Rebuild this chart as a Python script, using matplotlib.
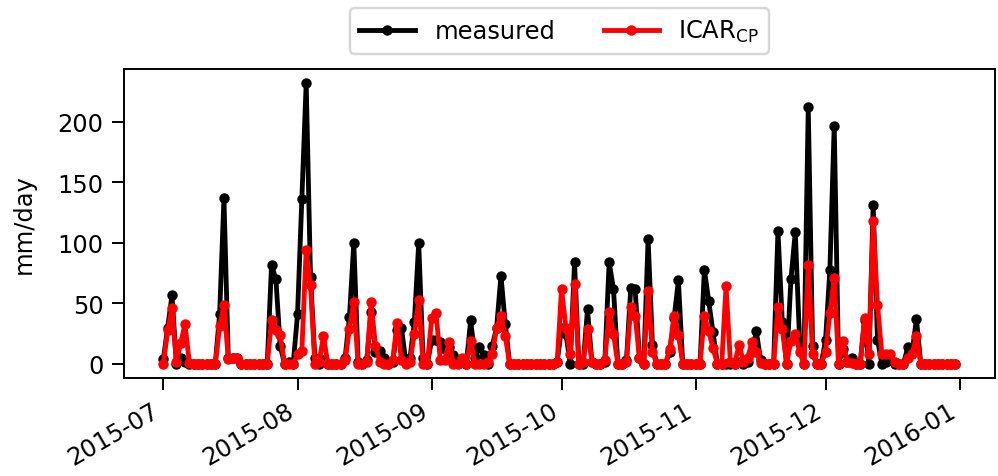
import numpy as np
import pandas as pd
import matplotlib
matplotlib.use('Agg')
import matplotlib.pyplot as plt
import matplotlib.dates as mdates

# daily precipitation, 2015-07-01 .. 2015-12-31 (mm/day)
measured_jul = [4, 30, 57, 0, 5, 2, 0, 0, 0, 0, 0, 0, 0, 41, 137, 5, 5, 5, 0, 0,
                0, 0, 0, 0, 0, 82, 70, 15, 0, 2, 0]
icar_jul = [0, 28, 46, 2, 17, 33, 1, 0, 0, 0, 0, 0, 0, 31, 49, 4, 5, 5, 0, 0,
            0, 0, 0, 0, 0, 36, 28, 24, 0, 0, 0]

measured_aug = [41, 136, 232, 72, 5, 0, 3, 0, 0, 0, 0, 5, 39, 100, 2, 0, 3, 43, 10, 11,
                5, 0, 2, 28, 30, 2, 5, 35, 100, 5, 0]
icar_aug = [8, 11, 94, 65, 0, 2, 23, 0, 0, 0, 0, 3, 29, 51, 0, 0, 2, 51, 15, 2,
            0, 0, 3, 34, 3, 0, 2, 25, 53, 0, 0]

measured_sep = [20, 20, 18, 12, 14, 7, 2, 3, 0, 36, 5, 14, 7, 0, 15, 30, 73, 33, 0, 0,
                0, 0, 0, 0, 0, 0, 0, 0, 0, 2]
icar_sep = [38, 42, 3, 3, 18, 0, 0, 5, 0, 19, 0, 0, 0, 2, 8, 30, 40, 23, 0, 0,
            0, 0, 0, 0, 0, 0, 0, 0, 0, 2]

measured_oct = [30, 25, 0, 84, 0, 0, 45, 2, 0, 0, 2, 84, 62, 0, 0, 3, 63, 62, 5, 0,
                103, 16, 0, 0, 0, 10, 38, 69, 0, 0, 0]
icar_oct = [62, 30, 8, 66, 0, 2, 29, 2, 0, 0, 3, 43, 25, 0, 0, 2, 47, 40, 5, 0,
            60, 10, 0, 0, 0, 12, 40, 24, 0, 0, 0]

measured_nov = [0, 0, 78, 52, 26, 0, 0, 0, 0, 0, 2, 0, 2, 10, 27, 3, 0, 0, 0, 110,
                35, 0, 70, 109, 20, 0, 212, 15, 0, 0]
icar_nov = [0, 0, 40, 27, 13, 0, 0, 64, 2, 0, 16, 2, 5, 18, 10, 1, 0, 0, 0, 47,
            29, 0, 19, 25, 10, 0, 82, 8, 0, 0]

measured_dec = [20, 78, 197, 0, 12, 2, 5, 0, 0, 36, 0, 131, 20, 0, 2, 3, 0, 0, 0, 14,
                10, 37, 0, 0, 0, 0, 0, 0, 0, 0, 0]
icar_dec = [10, 42, 71, 0, 19, 2, 1, 0, 0, 38, 8, 118, 49, 8, 8, 8, 2, 0, 0, 5,
            8, 23, 0, 0, 0, 0, 0, 0, 0, 0, 0]

measured = (measured_jul + measured_aug + measured_sep +
            measured_oct + measured_nov + measured_dec)
icar = icar_jul + icar_aug + icar_sep + icar_oct + icar_nov + icar_dec
dates = pd.date_range('2015-07-01', '2015-12-31', freq='D')

DPI = 174
fig = plt.figure(figsize=(998 / DPI, 477 / DPI), dpi=DPI)
ax = fig.add_axes([0.124, 0.2055, 0.873, 0.6475])

ax.plot(dates, measured, '-o', color='black', lw=2, ms=3.3, label='measured')
ax.plot(dates, icar, '-o', color='red', lw=2, ms=3.3, label=r'ICAR$_\mathregular{CP}$')

ax.set_ylabel('mm/day', labelpad=9)
ax.set_yticks([0, 50, 100, 150, 200])
ax.xaxis.set_major_locator(mdates.MonthLocator())
ax.xaxis.set_major_formatter(mdates.DateFormatter('%Y-%m'))
ax.tick_params(length=4.8)
for lbl in ax.get_xticklabels():
    lbl.set_rotation(30)
    lbl.set_ha('right')

ax.legend(loc='lower center', bbox_to_anchor=(0.5, 1.01), ncol=2,
          handlelength=2.3, columnspacing=2.0)

fig.savefig('out.png', dpi=DPI)
